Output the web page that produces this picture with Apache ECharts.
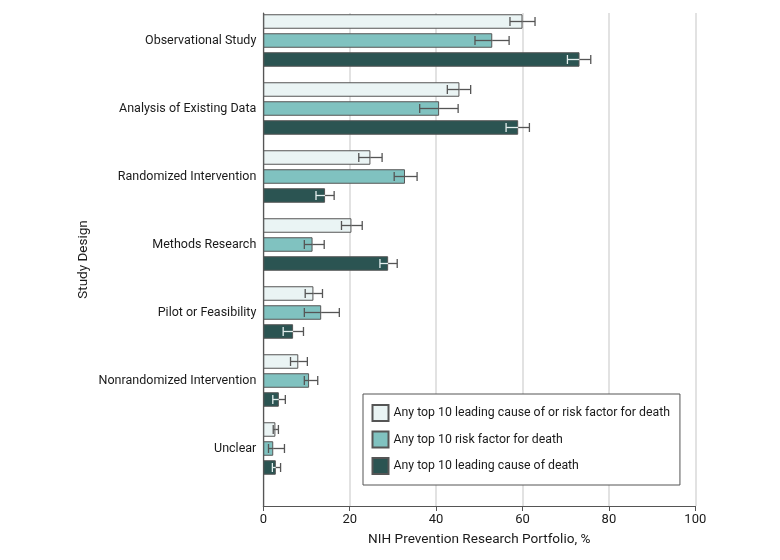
<!DOCTYPE html>
<html>
<head>
<meta charset="utf-8">
<script src="https://cdn.jsdelivr.net/npm/echarts@6/dist/echarts.min.js"></script>
<style>html,body{margin:0;padding:0;background:#fff}#c{width:780px;height:560px}</style>
</head>
<body>
<div id="c"></div>
<script>
const categories = ["Observational Study", "Analysis of Existing Data", "Randomized Intervention", "Methods Research", "Pilot or Feasibility", "Nonrandomized Intervention", "Unclear"];
const seriesNames = ["Any top 10 leading cause of or risk factor for death", "Any top 10 risk factor for death", "Any top 10 leading cause of death"];
const xTicks = [0, 20, 40, 60, 80, 100];

const causeOrRiskValues = [60.0, 45.4, 24.8, 20.4, 11.6, 8.1, 2.8];
const causeOrRiskLow    = [57.1, 42.6, 22.1, 18.1, 9.7, 6.3, 2.3];
const causeOrRiskHigh   = [62.9, 48.0, 27.5, 22.9, 13.7, 10.2, 3.5];

const riskValues = [53.0, 40.7, 32.8, 11.4, 13.4, 10.6, 2.3];
const riskLow    = [49.0, 36.2, 30.3, 9.5, 9.5, 9.5, 1.2];
const riskHigh   = [56.9, 45.1, 35.6, 14.1, 17.6, 12.6, 4.9];

const causeValues = [73.2, 59.0, 14.3, 28.9, 6.9, 3.6, 2.9];
const causeLow    = [70.4, 56.2, 12.2, 27.0, 4.6, 2.2, 2.1];
const causeHigh   = [75.8, 61.6, 16.4, 31.0, 9.3, 5.1, 4.0];

const FONT = "Roboto, 'Noto Sans', sans-serif";
const colors = ["#eaf4f4", "#80c2c0", "#2b5452"];
const BAR_W = 14.5, BAR_GAP = 4.5;

function errSeries(idx, values, low, high, innerColor) {
  const data = values.map((v, i) => [i, low[i], high[i], v]);
  const offset = (idx - 1) * (BAR_W + BAR_GAP);
  return {
    type: 'custom',
    xAxisIndex: 0, yAxisIndex: 0,
    z: 5,
    silent: true,
    encode: { x: [1, 2], y: 0 },
    data: data,
    renderItem: function (params, api) {
      const cat = api.value(0);
      const lo = api.coord([api.value(1), cat]);
      const hi = api.coord([api.value(2), cat]);
      const va = api.coord([api.value(3), cat]);
      const y = lo[1] + offset;
      const cap = 4.5;
      const outer = '#555';
      const lw = 1.3;
      const children = [
        { type: 'line', shape: { x1: lo[0], y1: y, x2: va[0], y2: y }, style: { stroke: innerColor, lineWidth: lw } },
        { type: 'line', shape: { x1: va[0], y1: y, x2: hi[0], y2: y }, style: { stroke: outer, lineWidth: lw } },
        { type: 'line', shape: { x1: lo[0], y1: y - cap, x2: lo[0], y2: y + cap }, style: { stroke: innerColor, lineWidth: lw } },
        { type: 'line', shape: { x1: hi[0], y1: y - cap, x2: hi[0], y2: y + cap }, style: { stroke: outer, lineWidth: lw } }
      ];
      return { type: 'group', children: children };
    }
  };
}

function barSeries(idx, values) {
  return {
    name: seriesNames[idx],
    type: 'bar',
    xAxisIndex: 0, yAxisIndex: 0,
    data: values,
    barWidth: BAR_W,
    barGap: (BAR_GAP / BAR_W * 100).toFixed(1) + '%',
    itemStyle: { color: colors[idx], borderColor: '#555', borderWidth: 1 }
  };
}

const chart = echarts.init(document.getElementById('c'), null, { renderer: 'canvas' });
chart.setOption({
  animation: false,
  backgroundColor: '#fff',
  textStyle: { fontFamily: FONT },
  grid: [
    { left: 263.3, top: 6.5, width: 432, height: 476, containLabel: false },
    { left: 263.3, top: 13, width: 432, height: 493, containLabel: false }
  ],
  xAxis: [
    { gridIndex: 0, type: 'value', min: 0, max: 100, show: false },
    {
      gridIndex: 1, type: 'value', min: 0, max: 100, interval: 20,
      name: 'NIH Prevention Research Portfolio, %', nameLocation: 'middle', nameGap: 27,
      nameTextStyle: { fontFamily: FONT, fontSize: 13.6, color: '#1a1a1a' },
      axisLine: { show: true, lineStyle: { color: '#555', width: 1.2 } },
      axisTick: { show: true, length: 5, lineStyle: { color: '#555' } },
      axisLabel: { fontFamily: FONT, fontSize: 13, color: '#1a1a1a', margin: 7,
        formatter: function (v) { return xTicks.indexOf(v) >= 0 ? String(v) : ''; } },
      splitLine: { show: true, lineStyle: { color: '#d9d9d9', width: 1.5 } }
    }
  ],
  yAxis: [
    {
      gridIndex: 0, type: 'category', data: categories, inverse: true,
      axisLine: { show: false }, axisTick: { show: false }, splitLine: { show: false },
      axisLabel: { fontFamily: FONT, fontSize: 12.5, color: '#1a1a1a', margin: 7 }
    },
    {
      gridIndex: 1, type: 'value', min: 0, max: 1,
      name: 'Study Design', nameLocation: 'middle', nameGap: 173,
      nameTextStyle: { fontFamily: FONT, fontSize: 13.5, color: '#1a1a1a' },
      axisLine: { show: true, lineStyle: { color: '#555', width: 1.2 } },
      axisTick: { show: false }, axisLabel: { show: false }, splitLine: { show: false }
    }
  ],
  legend: {
    orient: 'vertical', left: 363, top: 394,
    padding: [10, 10, 10, 8.5],
    itemWidth: 16, itemHeight: 16, itemGap: 8.5,
    icon: 'rect',
    backgroundColor: '#fff', borderColor: '#555', borderWidth: 1,
    textStyle: { fontFamily: FONT, fontSize: 12.3, color: '#1a1a1a' },
    data: seriesNames
  },
  series: [
    barSeries(0, causeOrRiskValues),
    barSeries(1, riskValues),
    barSeries(2, causeValues),
    errSeries(0, causeOrRiskValues, causeOrRiskLow, causeOrRiskHigh, '#555'),
    errSeries(1, riskValues, riskLow, riskHigh, '#555'),
    errSeries(2, causeValues, causeLow, causeHigh, '#e4efee')
  ]
});
</script>
</body>
</html>
